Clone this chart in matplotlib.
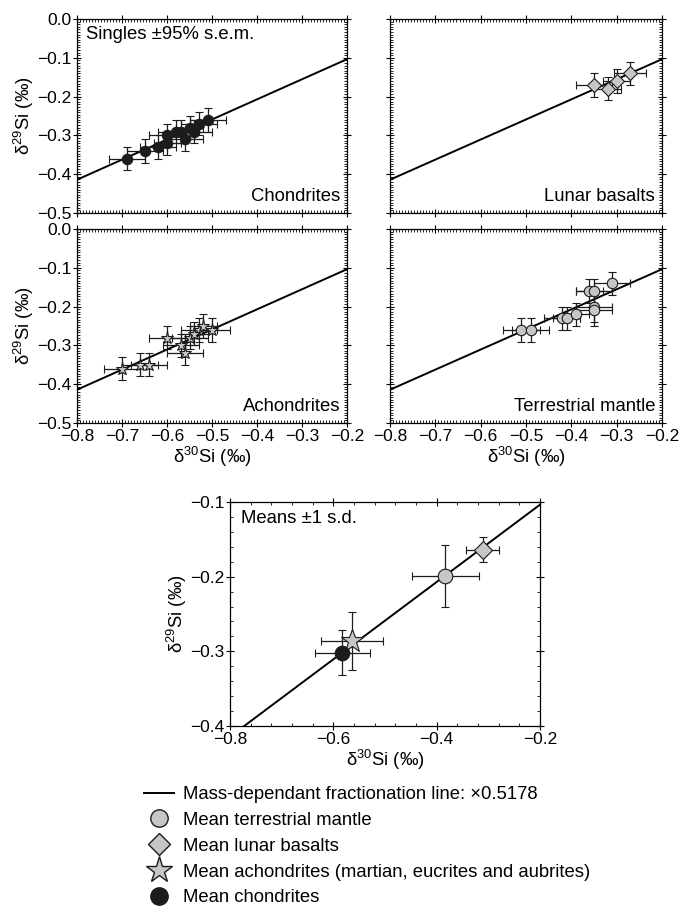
import matplotlib
matplotlib.use("Agg")
import matplotlib.pyplot as plt
from matplotlib.ticker import MultipleLocator, NullFormatter, FuncFormatter
from matplotlib.lines import Line2D
import numpy as np

plt.rcParams['font.family'] = ['Liberation Sans', 'DejaVu Sans']
plt.rcParams['mathtext.default'] = 'regular'

SLOPE = 0.5178
GREY = "#c6c6c6"
DARK = "#1c1c1c"

# singles: chondrites
chon_x = [-0.69, -0.65, -0.62, -0.60, -0.60, -0.58, -0.56, -0.55, -0.54, -0.53, -0.51, -0.57]
chon_y = [-0.36, -0.34, -0.33, -0.32, -0.30, -0.29, -0.31, -0.28, -0.29, -0.27, -0.26, -0.29]
chon_xe = [0.04, 0.04, 0.04, 0.03, 0.04, 0.04, 0.04, 0.03, 0.04, 0.04, 0.04, 0.03]
chon_ye = [0.03, 0.03, 0.03, 0.03, 0.03, 0.03, 0.03, 0.03, 0.03, 0.03, 0.03, 0.03]

# singles: lunar basalts
lun_x = [-0.35, -0.32, -0.30, -0.27]
lun_y = [-0.17, -0.18, -0.16, -0.14]
lun_xe = [0.04, 0.03, 0.03, 0.035]
lun_ye = [0.03, 0.03, 0.03, 0.03]

# singles: achondrites
ach_x = [-0.70, -0.66, -0.64, -0.60, -0.57, -0.56, -0.55, -0.53, -0.52, -0.50, -0.54]
ach_y = [-0.36, -0.35, -0.35, -0.28, -0.30, -0.32, -0.28, -0.26, -0.25, -0.26, -0.27]
ach_xe = [0.04, 0.04, 0.04, 0.04, 0.04, 0.04, 0.04, 0.04, 0.03, 0.04, 0.03]
ach_ye = [0.03, 0.03, 0.03, 0.03, 0.03, 0.03, 0.03, 0.03, 0.03, 0.03, 0.03]

# singles: terrestrial mantle
ter_x = [-0.51, -0.49, -0.42, -0.41, -0.39, -0.36, -0.35, -0.35, -0.35, -0.31]
ter_y = [-0.26, -0.26, -0.23, -0.23, -0.22, -0.16, -0.16, -0.20, -0.21, -0.14]
ter_xe = [0.04, 0.04, 0.04, 0.03, 0.03, 0.03, 0.04, 0.04, 0.04, 0.04]
ter_ye = [0.03, 0.03, 0.03, 0.03, 0.03, 0.03, 0.03, 0.04, 0.04, 0.03]

# means +-1 s.d.
mean_names = ["terrestrial", "lunar", "achondrites", "chondrites"]
mean_x = [-0.383, -0.311, -0.563, -0.583]
mean_y = [-0.199, -0.164, -0.286, -0.302]
mean_xe = [0.064, 0.032, 0.060, 0.053]
mean_ye = [0.042, 0.017, 0.039, 0.030]

legend_labels = [
    "Mass-dependant fractionation line: \u00d70.5178",
    "Mean terrestrial mantle",
    "Mean lunar basalts",
    "Mean achondrites (martian, eucrites and aubrites)",
    "Mean chondrites",
]

FS = 13.3
TFS = 12.5

fig = plt.figure(figsize=(6.8, 9.08), dpi=100)
W, H = 680, 908


def add_ax(x0, y0, x1, y1):
    return fig.add_axes([x0 / W, 1 - y1 / H, (x1 - x0) / W, (y1 - y0) / H])


def fmt(v, _pos):
    s = f"{v:.1f}"
    if s == "-0.0":
        s = "0.0"
    return s.replace("-", "\u2212")


def style(ax, xmaj, xmin, ymaj, ymin):
    ax.xaxis.set_major_locator(MultipleLocator(xmaj))
    ax.xaxis.set_minor_locator(MultipleLocator(xmin))
    ax.yaxis.set_major_locator(MultipleLocator(ymaj))
    ax.yaxis.set_minor_locator(MultipleLocator(ymin))
    ax.xaxis.set_major_formatter(FuncFormatter(fmt))
    ax.yaxis.set_major_formatter(FuncFormatter(fmt))
    ax.tick_params(which="major", direction="inout", length=6, width=0.8,
                   top=True, right=True, labelsize=TFS, pad=1)
    ax.tick_params(which="minor", direction="in", length=2.5, width=0.6,
                   top=True, right=True)
    for s in ax.spines.values():
        s.set_linewidth(0.9)


def frac_line(ax):
    xs = np.array([-0.8, -0.2])
    ax.plot(xs, SLOPE * xs, color="black", lw=1.4, zorder=1)


ebkw = dict(ls="none", ecolor=DARK, elinewidth=0.9, capsize=2.6, capthick=0.9, zorder=2)

panels = [
    (add_ax(77, 19, 347, 213), chon_x, chon_y, chon_xe, chon_ye, "o", DARK, 7.5, "Chondrites"),
    (add_ax(390, 19, 662, 213), lun_x, lun_y, lun_xe, lun_ye, "D", GREY, 7, "Lunar basalts"),
    (add_ax(77, 229, 347, 423), ach_x, ach_y, ach_xe, ach_ye, "*", GREY, 9.5, "Achondrites"),
    (add_ax(390, 229, 662, 423), ter_x, ter_y, ter_xe, ter_ye, "o", GREY, 7.5, "Terrestrial mantle"),
]

for i, (ax, x, y, xe, ye, mk, fc, ms, name) in enumerate(panels):
    frac_line(ax)
    ax.errorbar(x, y, xerr=xe, yerr=ye, fmt=mk, mfc=fc, mec=DARK, mew=0.8, ms=ms, **ebkw)
    ax.set_xlim(-0.8, -0.2)
    ax.set_ylim(-0.5, 0.0)
    style(ax, 0.1, 0.1 / 15, 0.1, 0.1 / 15)
    ax.text(0.975, 0.04, name, transform=ax.transAxes, ha="right", va="bottom", fontsize=FS)
    if i % 2 == 0:
        ax.set_ylabel(r"$\delta^{29}$Si (‰)", fontsize=FS, labelpad=1)
    else:
        ax.yaxis.set_major_formatter(NullFormatter())
    if i < 2:
        ax.xaxis.set_major_formatter(NullFormatter())
    else:
        ax.set_xlabel(r"$\delta^{30}$Si (‰)", fontsize=FS, labelpad=1)

panels[0][0].text(0.035, 0.965, "Singles \u00b195% s.e.m.", transform=panels[0][0].transAxes,
                  ha="left", va="top", fontsize=FS)

# means panel
axm = add_ax(230, 502, 540, 726)
frac_line(axm)
mean_style = [("o", GREY, 10.5), ("D", GREY, 9), ("*", GREY, 17), ("o", DARK, 10.5)]
for j in range(4):
    mk, fc, ms = mean_style[j]
    axm.errorbar([mean_x[j]], [mean_y[j]], xerr=[mean_xe[j]], yerr=[mean_ye[j]], fmt=mk,
                 mfc=fc, mec=DARK, mew=0.8, ms=ms, **ebkw)
axm.set_xlim(-0.8, -0.2)
axm.set_ylim(-0.4, -0.1)
style(axm, 0.2, 0.04, 0.1, 0.02)
axm.set_ylabel(r"$\delta^{29}$Si (‰)", fontsize=FS, labelpad=1)
axm.set_xlabel(r"$\delta^{30}$Si (‰)", fontsize=FS, labelpad=1)
axm.text(0.035, 0.965, "Means \u00b11 s.d.", transform=axm.transAxes, ha="left", va="top", fontsize=FS)

handles = [
    Line2D([], [], color="black", lw=1.4),
    Line2D([], [], ls="none", marker="o", mfc=GREY, mec=DARK, ms=12.5),
    Line2D([], [], ls="none", marker="D", mfc=GREY, mec=DARK, ms=11),
    Line2D([], [], ls="none", marker="*", mfc=GREY, mec=DARK, ms=20),
    Line2D([], [], ls="none", marker="o", mfc=DARK, mec=DARK, ms=12.5),
]
fig.legend(handles, legend_labels, loc="upper left", bbox_to_anchor=(144 / W, 1 - 786 / H),
           frameon=False, fontsize=FS, handlelength=1.65, handletextpad=0.45,
           labelspacing=0.48, borderpad=0, borderaxespad=0)

fig.savefig("out.png", dpi=100)
